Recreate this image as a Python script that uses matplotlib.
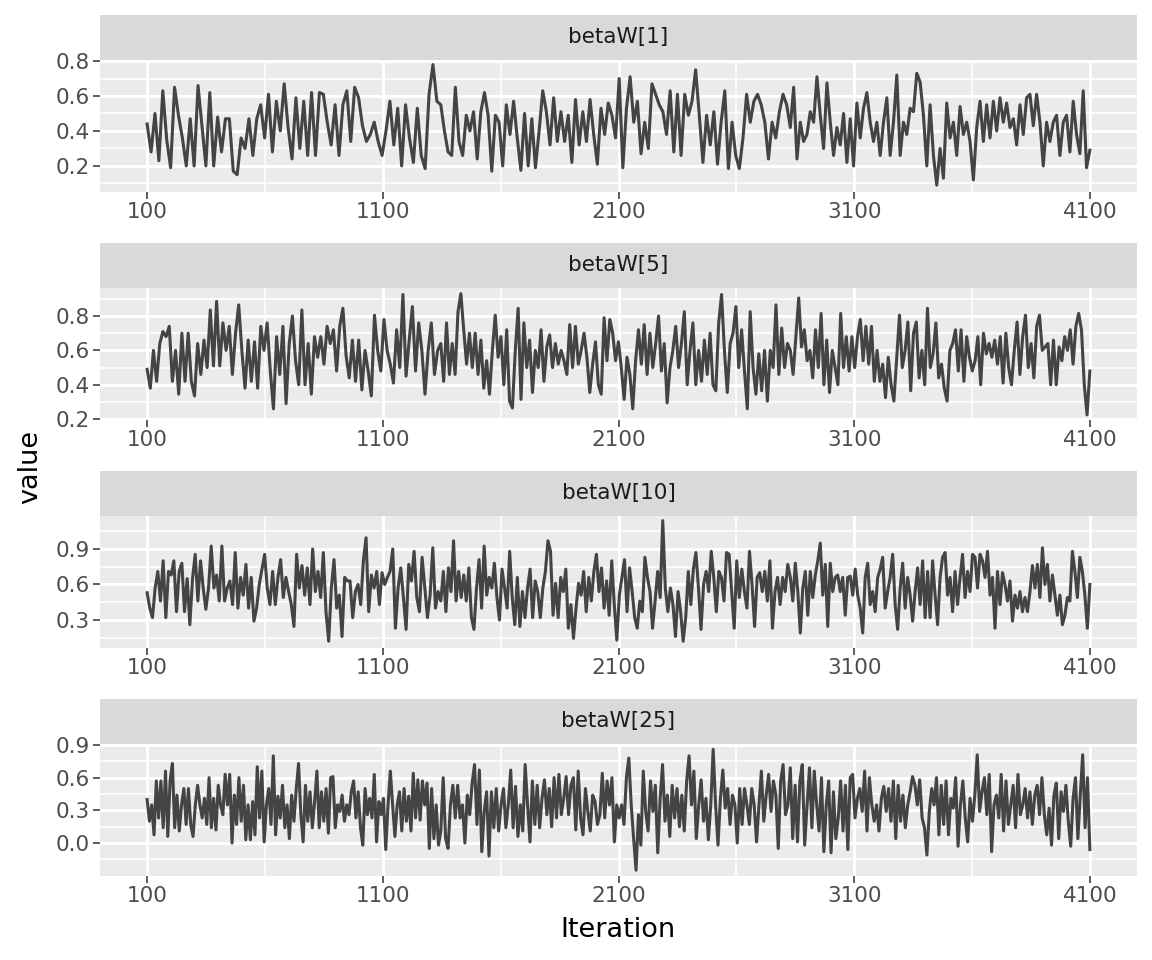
import numpy as np
import matplotlib
matplotlib.use('Agg')
import matplotlib.pyplot as plt

# iteration at the borders of the three pieces each chain was read in
segment_edges = [100, 1346, 2829, 4100]

params = ['betaW[1]', 'betaW[5]', 'betaW[10]', 'betaW[25]']

betaW1_a = [0.44, 0.28, 0.50, 0.23, 0.63, 0.35, 0.19, 0.65, 0.49, 0.36, 0.20, 0.47, 0.20, 0.66, 0.43,
            0.20, 0.62, 0.20, 0.48, 0.28, 0.47, 0.47, 0.17, 0.15, 0.36, 0.30, 0.47, 0.26, 0.47, 0.55,
            0.36, 0.61, 0.28, 0.57, 0.40, 0.67, 0.42, 0.24, 0.59, 0.30, 0.57, 0.26, 0.62, 0.26, 0.62,
            0.61, 0.45, 0.32, 0.55, 0.26, 0.55, 0.63, 0.34, 0.65, 0.59, 0.43, 0.34, 0.38, 0.45, 0.34,
            0.26, 0.40, 0.57, 0.32, 0.53, 0.20, 0.55, 0.36, 0.22, 0.53, 0.26, 0.185, 0.61, 0.78, 0.57]
betaW1_b = [0.55, 0.40, 0.28, 0.26, 0.65, 0.34, 0.26, 0.49, 0.40, 0.51, 0.24, 0.51, 0.62, 0.49, 0.17,
            0.49, 0.45, 0.20, 0.55, 0.38, 0.57, 0.36, 0.175, 0.50, 0.20, 0.47, 0.19, 0.40, 0.63, 0.51,
            0.32, 0.59, 0.34, 0.51, 0.34, 0.49, 0.22, 0.58, 0.32, 0.51, 0.34, 0.58, 0.38, 0.21, 0.53,
            0.38, 0.56, 0.49, 0.36, 0.70, 0.19, 0.53, 0.71, 0.45, 0.57, 0.27, 0.45, 0.30, 0.67, 0.61,
            0.55, 0.51, 0.38, 0.63, 0.28, 0.61, 0.26, 0.61, 0.49, 0.57, 0.75, 0.49, 0.22, 0.49, 0.32,
            0.51, 0.21, 0.45, 0.63, 0.185, 0.45, 0.26, 0.185, 0.36, 0.61, 0.45, 0.57, 0.61, 0.55, 0.45,
            0.24, 0.45, 0.36, 0.51, 0.61, 0.55]
betaW1_c = [0.42, 0.65, 0.24, 0.45, 0.34, 0.38, 0.51, 0.45, 0.71, 0.49, 0.30, 0.675, 0.45, 0.26, 0.42,
            0.32, 0.50, 0.22, 0.47, 0.20, 0.56, 0.36, 0.53, 0.62, 0.45, 0.34, 0.45, 0.26, 0.45, 0.59,
            0.26, 0.45, 0.72, 0.26, 0.45, 0.38, 0.53, 0.51, 0.73, 0.68, 0.49, 0.20, 0.55, 0.26, 0.09,
            0.30, 0.13, 0.56, 0.36, 0.45, 0.26, 0.54, 0.38, 0.45, 0.34, 0.12, 0.42, 0.57, 0.34, 0.55,
            0.36, 0.57, 0.40, 0.59, 0.45, 0.56, 0.42, 0.47, 0.32, 0.55, 0.38, 0.59, 0.61, 0.43, 0.61,
            0.45, 0.20, 0.45, 0.34, 0.45, 0.49, 0.26, 0.45, 0.49, 0.28, 0.57, 0.38, 0.27, 0.63, 0.19,
            0.29]

betaW5_a = [0.49, 0.38, 0.60, 0.42, 0.64, 0.71, 0.68, 0.74, 0.42, 0.60, 0.345, 0.70, 0.42, 0.70, 0.42,
            0.335, 0.64, 0.46, 0.66, 0.50, 0.835, 0.51, 0.885, 0.51, 0.76, 0.60, 0.74, 0.46, 0.70, 0.865,
            0.60, 0.38, 0.66, 0.42, 0.65, 0.38, 0.74, 0.60, 0.76, 0.48, 0.26, 0.68, 0.46, 0.74, 0.29,
            0.64, 0.80, 0.54, 0.40, 0.835, 0.40, 0.64, 0.345, 0.68, 0.56, 0.68, 0.52, 0.74, 0.64, 0.72,
            0.48, 0.74, 0.845, 0.57, 0.44, 0.66, 0.42, 0.66, 0.37, 0.60, 0.48, 0.335, 0.805, 0.60, 0.48,
            0.78, 0.60, 0.52, 0.41, 0.72, 0.50, 0.925, 0.45, 0.66, 0.855, 0.48, 0.76, 0.60, 0.345, 0.60,
            0.76, 0.46, 0.60]
betaW5_b = [0.64, 0.42, 0.76, 0.46, 0.64, 0.46, 0.825, 0.93, 0.72, 0.52, 0.70, 0.50, 0.70, 0.46, 0.66,
            0.38, 0.54, 0.345, 0.60, 0.805, 0.56, 0.68, 0.40, 0.72, 0.305, 0.265, 0.60, 0.845, 0.315, 0.76,
            0.50, 0.66, 0.355, 0.60, 0.50, 0.72, 0.42, 0.62, 0.69, 0.50, 0.64, 0.52, 0.60, 0.54, 0.46,
            0.75, 0.50, 0.74, 0.52, 0.60, 0.70, 0.56, 0.355, 0.52, 0.65, 0.40, 0.345, 0.79, 0.54, 0.78,
            0.70, 0.54, 0.65, 0.50, 0.315, 0.56, 0.46, 0.26, 0.54, 0.72, 0.52, 0.75, 0.46, 0.70, 0.50,
            0.64, 0.80, 0.48, 0.64, 0.295, 0.50, 0.60, 0.74, 0.50, 0.64, 0.825, 0.40, 0.60, 0.76, 0.40,
            0.60, 0.42, 0.66, 0.46, 0.70, 0.40, 0.365, 0.76, 0.925, 0.60, 0.355, 0.64, 0.70, 0.855, 0.50,
            0.72, 0.48, 0.26, 0.825, 0.50, 0.345, 0.58, 0.365, 0.60, 0.305, 0.60, 0.50, 0.865, 0.46, 0.73,
            0.50, 0.64]
betaW5_c = [0.60, 0.46, 0.68, 0.905, 0.62, 0.72, 0.54, 0.60, 0.44, 0.72, 0.50, 0.815, 0.40, 0.66, 0.355,
            0.60, 0.50, 0.40, 0.815, 0.50, 0.68, 0.48, 0.68, 0.50, 0.68, 0.78, 0.54, 0.74, 0.52, 0.74,
            0.42, 0.60, 0.42, 0.52, 0.325, 0.56, 0.40, 0.305, 0.56, 0.805, 0.50, 0.60, 0.765, 0.365, 0.70,
            0.765, 0.44, 0.60, 0.40, 0.845, 0.50, 0.58, 0.76, 0.44, 0.52, 0.38, 0.305, 0.60, 0.64, 0.72,
            0.48, 0.72, 0.42, 0.68, 0.56, 0.48, 0.54, 0.68, 0.40, 0.70, 0.58, 0.64, 0.56, 0.66, 0.52,
            0.68, 0.41, 0.70, 0.50, 0.40, 0.60, 0.765, 0.46, 0.68, 0.805, 0.50, 0.64, 0.44, 0.74, 0.805,
            0.60, 0.62, 0.64, 0.40, 0.66, 0.40, 0.62, 0.54, 0.68, 0.60, 0.72, 0.52, 0.74, 0.815, 0.72,
            0.40, 0.225, 0.48]

betaW10_a = [0.53, 0.40, 0.32, 0.57, 0.71, 0.46, 0.80, 0.32, 0.71, 0.68, 0.80, 0.37, 0.71, 0.78, 0.37,
             0.65, 0.26, 0.65, 0.855, 0.46, 0.80, 0.57, 0.39, 0.57, 0.925, 0.57, 0.68, 0.46, 0.925, 0.46,
             0.57, 0.63, 0.43, 0.87, 0.40, 0.66, 0.51, 0.77, 0.40, 0.66, 0.29, 0.40, 0.60, 0.73, 0.855,
             0.57, 0.43, 0.71, 0.43, 0.66, 0.81, 0.49, 0.66, 0.54, 0.43, 0.245, 0.855, 0.57, 0.76, 0.51,
             0.74, 0.43, 0.90, 0.54, 0.71, 0.49, 0.87, 0.37, 0.12, 0.57, 0.81, 0.40, 0.51, 0.16, 0.66,
             0.63, 0.63, 0.32, 0.54, 0.60, 0.43, 0.80, 0.995, 0.37, 0.68, 0.57, 0.71, 0.43, 0.70, 0.60,
             0.66, 0.71, 0.90, 0.23, 0.57, 0.74, 0.49, 0.22, 0.77, 0.63, 0.88, 0.49, 0.37, 0.83, 0.57,
             0.32, 0.51, 0.91, 0.40, 0.54]
betaW10_b = [0.46, 0.71, 0.37, 0.74, 0.54, 0.97, 0.46, 0.71, 0.49, 0.68, 0.46, 0.74, 0.32, 0.22, 0.57,
             0.81, 0.40, 0.925, 0.51, 0.66, 0.57, 0.78, 0.49, 0.30, 0.73, 0.57, 0.40, 0.88, 0.49, 0.26,
             0.66, 0.245, 0.54, 0.32, 0.57, 0.73, 0.32, 0.63, 0.54, 0.32, 0.57, 0.71, 0.97, 0.88, 0.34,
             0.61, 0.32, 0.66, 0.54, 0.73, 0.23, 0.43, 0.145, 0.40, 0.61, 0.51, 0.71, 0.37, 0.66, 0.46,
             0.71, 0.855, 0.54, 0.74, 0.40, 0.63, 0.34, 0.80, 0.43, 0.13, 0.51, 0.66, 0.81, 0.37, 0.74,
             0.54, 0.32, 0.23, 0.46, 0.37, 0.83, 0.66, 0.54, 0.23, 0.46, 0.71, 0.49, 1.14, 0.57, 0.37,
             0.57, 0.43, 0.16, 0.54, 0.37, 0.12, 0.32, 0.71, 0.43, 0.73, 0.87, 0.57, 0.22, 0.60, 0.71,
             0.54, 0.88, 0.66, 0.37, 0.71, 0.66, 0.46, 0.87, 0.855, 0.54, 0.23, 0.80, 0.49, 0.73, 0.54,
             0.40, 0.88, 0.60, 0.245, 0.66, 0.70, 0.54, 0.71, 0.46, 0.80, 0.23, 0.54, 0.66, 0.43, 0.66,
             0.54, 0.77]
betaW10_c = [0.66, 0.46, 0.78, 0.54, 0.19, 0.57, 0.71, 0.34, 0.71, 0.49, 0.68, 0.80, 0.95, 0.51, 0.77,
             0.245, 0.78, 0.54, 0.66, 0.68, 0.54, 0.66, 0.34, 0.66, 0.67, 0.51, 0.73, 0.51, 0.40, 0.19,
             0.66, 0.78, 0.43, 0.54, 0.37, 0.66, 0.73, 0.83, 0.40, 0.54, 0.66, 0.855, 0.43, 0.22, 0.57,
             0.78, 0.40, 0.66, 0.51, 0.29, 0.54, 0.74, 0.43, 0.80, 0.32, 0.71, 0.32, 0.80, 0.51, 0.26,
             0.66, 0.83, 0.87, 0.51, 0.66, 0.37, 0.71, 0.43, 0.66, 0.855, 0.49, 0.71, 0.54, 0.855, 0.83,
             0.57, 0.855, 0.80, 0.66, 0.88, 0.51, 0.66, 0.23, 0.71, 0.43, 0.70, 0.60, 0.46, 0.63, 0.29,
             0.51, 0.40, 0.54, 0.37, 0.49, 0.37, 0.54, 0.76, 0.57, 0.77, 0.49, 0.91, 0.60, 0.77, 0.46,
             0.68, 0.51, 0.34, 0.51, 0.26, 0.34, 0.49, 0.46, 0.88, 0.71, 0.49, 0.83, 0.71, 0.51, 0.23,
             0.60]

betaW25_a = [0.40, 0.20, 0.35, 0.075, 0.57, 0.23, 0.57, 0.14, 0.66, 0.06, 0.57, 0.73, 0.14, 0.44, 0.11,
             0.35, 0.50, 0.17, 0.50, 0.17, 0.06, 0.35, 0.53, 0.35, 0.23, 0.41, 0.17, 0.60, 0.14, 0.41,
             0.12, 0.53, 0.35, 0.26, 0.63, 0.35, 0.63, 0.00, 0.44, 0.17, 0.60, 0.20, 0.53, 0.03, 0.35,
             0.03, 0.38, 0.075, 0.70, 0.23, 0.66, 0.01, 0.35, 0.50, 0.17, 0.80, 0.075, 0.43, 0.23, 0.53,
             0.14, 0.35, 0.04, 0.44, 0.20, 0.50, 0.73, 0.26, 0.01, 0.53, 0.20, 0.47, 0.14, 0.38, 0.66,
             0.14, 0.47, 0.20, 0.50, 0.09, 0.60, 0.61, 0.14, 0.35, 0.29, 0.44, 0.20, 0.35, 0.26, 0.47,
             0.57, 0.23, 0.47, 0.14, -0.02, 0.50, 0.26, 0.41, 0.23, 0.63, 0.01, 0.38, 0.26, 0.41, -0.06,
             0.35, 0.66, 0.35, 0.06, 0.35, 0.47, 0.11, 0.50, 0.20, 0.43, 0.11, 0.64, 0.23, 0.58, 0.21,
             0.57, 0.35, 0.55, -0.05, 0.50, 0.04, 0.35, -0.02]
betaW25_b = [0.11, 0.60, 0.04, -0.05, 0.35, 0.53, 0.23, 0.53, 0.23, 0.35, 0.00, 0.44, 0.26, 0.55, 0.72,
             0.17, 0.67, -0.08, 0.29, 0.47, -0.12, 0.47, 0.14, 0.50, 0.11, 0.35, 0.50, 0.14, 0.35, 0.67,
             0.14, 0.52, 0.06, 0.35, 0.11, 0.72, 0.35, 0.01, 0.57, 0.17, 0.53, 0.14, 0.41, 0.58, 0.26,
             0.50, 0.15, 0.60, 0.23, 0.63, 0.26, 0.41, 0.61, 0.26, 0.53, 0.60, 0.12, 0.66, 0.23, 0.075,
             0.50, 0.29, 0.11, 0.44, 0.38, 0.17, 0.26, 0.64, 0.23, 0.57, 0.35, 0.60, 0.01, 0.35, 0.23,
             0.35, 0.17, 0.60, 0.78, 0.35, 0.04, -0.25, 0.26, -0.02, 0.66, 0.29, 0.11, 0.57, 0.29, 0.53,
             -0.09, 0.41, 0.72, 0.20, 0.44, 0.06, 0.53, 0.23, 0.50, 0.15, 0.44, 0.11, 0.57, 0.80, 0.35,
             0.66, 0.04, 0.35, 0.58, 0.20, 0.41, 0.03, 0.35, 0.86, 0.35, -0.02, 0.41, 0.67, 0.32, 0.50,
             0.17, 0.44, 0.35, 0.00, 0.50, 0.17, 0.50, 0.35, 0.17, 0.50, 0.35, 0.01, 0.35, 0.66, 0.20,
             0.44, 0.63, 0.29, 0.57, 0.44, -0.05, 0.57, 0.72, 0.26, 0.35]
betaW25_c = [0.69, 0.04, 0.53, 0.01, 0.57, 0.72, -0.02, 0.35, 0.69, 0.14, 0.66, 0.35, 0.11, 0.60, -0.08,
             0.35, 0.57, -0.09, 0.47, 0.04, 0.23, 0.57, 0.11, 0.53, -0.06, 0.60, 0.63, 0.23, 0.41, 0.50,
             0.29, 0.66, 0.11, 0.60, 0.35, 0.20, 0.35, 0.11, 0.41, 0.52, 0.29, 0.50, 0.20, 0.57, 0.04,
             0.53, 0.20, 0.44, 0.14, 0.35, 0.47, 0.61, 0.53, 0.35, 0.58, 0.23, 0.14, -0.11, 0.29, 0.50,
             0.35, 0.60, 0.075, 0.53, 0.17, 0.57, 0.075, 0.41, 0.32, 0.60, -0.03, 0.35, 0.57, 0.23, 0.01,
             0.41, 0.20, 0.44, 0.81, 0.29, 0.47, 0.60, 0.26, 0.63, -0.08, 0.35, 0.44, 0.23, 0.63, 0.11,
             0.57, 0.17, 0.35, 0.53, 0.14, 0.63, 0.26, 0.35, 0.50, 0.23, 0.47, 0.17, 0.44, 0.53, 0.26,
             0.60, 0.26, 0.075, 0.32, -0.02, 0.44, 0.55, 0.04, 0.47, 0.29, 0.53, 0.20, -0.03, 0.41, 0.60,
             0.04, 0.44, 0.81, 0.14, 0.60, -0.06]

chains = [
    [betaW1_a, betaW1_b, betaW1_c],
    [betaW5_a, betaW5_b, betaW5_c],
    [betaW10_a, betaW10_b, betaW10_c],
    [betaW25_a, betaW25_b, betaW25_c],
]

x_breaks = [100, 1100, 2100, 3100, 4100]
x_minor = [600, 1600, 2600, 3600]
y_breaks = [[0.2, 0.4, 0.6, 0.8], [0.2, 0.4, 0.6, 0.8], [0.3, 0.6, 0.9], [0.0, 0.3, 0.6, 0.9]]
y_minor = [[0.1, 0.3, 0.5, 0.7], [0.3, 0.5, 0.7, 0.9], [0.15, 0.45, 0.75, 1.05], [-0.15, 0.15, 0.45, 0.75]]
y_limits = [(0.051, 0.806), (0.195, 0.963), (0.063, 1.179), (-0.303, 0.909)]


def iterations(pieces):
    its = []
    for k, p in enumerate(pieces):
        last = k == len(pieces) - 1
        its.append(np.linspace(segment_edges[k], segment_edges[k + 1], len(p), endpoint=last))
    return np.concatenate(its)


plt.rcParams['font.family'] = ['DejaVu Sans']
fig = plt.figure(figsize=(11.52, 9.6), dpi=100)

W, H = 1152, 960
left, right = 100 / W, 1137 / W
panel_h = 132 / H
strip_h = 45 / H
panel_tops = [60, 288, 516, 744]

for i, name in enumerate(params):
    top = 1 - panel_tops[i] / H
    ax = fig.add_axes([left, top - panel_h, right - left, panel_h])
    ax.set_facecolor('#EBEBEB')
    for s in ax.spines.values():
        s.set_visible(False)

    x = iterations(chains[i])
    y = np.concatenate([np.asarray(p, dtype=float) for p in chains[i]])
    ax.plot(x, y, color='#444444', lw=2.2, solid_joinstyle='round', zorder=3)

    ax.set_xlim(-100, 4300)
    ax.set_ylim(*y_limits[i])
    ax.set_xticks(x_breaks)
    ax.set_xticks(x_minor, minor=True)
    ax.set_yticks(y_breaks[i])
    ax.set_yticks(y_minor[i], minor=True)
    ax.set_xticklabels([str(v) for v in x_breaks])
    ax.set_yticklabels(['%.1f' % v for v in y_breaks[i]])
    ax.grid(which='major', color='white', lw=2.2, zorder=1)
    ax.grid(which='minor', color='white', lw=1.1, zorder=1)
    ax.set_axisbelow(True)
    ax.tick_params(which='major', length=5, width=1.1, color='#333333',
                   labelsize=15.5, labelcolor='#4D4D4D', pad=2.5)
    ax.tick_params(which='minor', length=0)

    sax = fig.add_axes([left, top, right - left, strip_h])
    sax.set_facecolor('#D9D9D9')
    sax.set_xticks([])
    sax.set_yticks([])
    for s in sax.spines.values():
        s.set_visible(False)
    sax.text(0.5, 0.5, name, ha='center', va='center', fontsize=15.5,
             color='#1A1A1A', transform=sax.transAxes)

fig.text(618 / W, 1 - 930 / H, 'Iteration', ha='center', va='center', fontsize=19.5)
fig.text(30 / W, 1 - 467 / H, 'value', ha='center', va='center', rotation=90, fontsize=19.5)

fig.savefig('out.png', dpi=100)
